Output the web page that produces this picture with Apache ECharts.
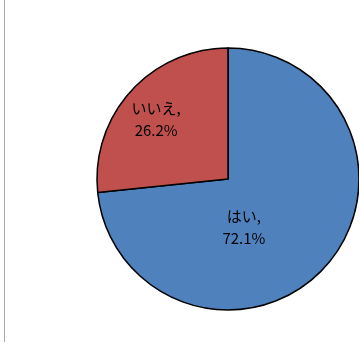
<!DOCTYPE html>
<html>
<head>
<meta charset="utf-8">
<script src="https://cdn.jsdelivr.net/npm/echarts@6/dist/echarts.min.js"></script>
<style>
  html, body { margin: 0; padding: 0; background: #fff; }
  #wrap { position: relative; width: 359px; height: 347px; }
  #edge { position: absolute; left: 4px; top: 0; width: 1px; height: 342px; background: #aaa; }
  #chart { position: absolute; left: 0; top: 0; width: 359px; height: 347px; }
</style>
</head>
<body>
<div id="wrap">
  <div id="chart"></div>
  <div id="edge"></div>
</div>
<script>
const names = ['はい', 'いいえ']
const values = [72.1, 26.2]
const colors = ['#4F81BD', '#C0504D']
const labelOffsets = [[-35, 2], [-21, -14]]

const chart = echarts.init(document.getElementById('chart'))
chart.setOption({
  animation: false,
  series: [
    {
      type: 'pie',
      center: [228, 179],
      radius: [0, 131],
      startAngle: 90,
      clockwise: true,
      silent: true,
      itemStyle: { borderColor: '#000', borderWidth: 1.5 },
      label: {
        position: 'inside',
        formatter: '{b},\n{c}%',
        color: '#000',
        fontSize: 15,
        lineHeight: 22,
        fontFamily: '"Noto Sans CJK JP", "Noto Sans", sans-serif'
      },
      labelLine: { show: false },
      data: names.map((n, i) => ({
        name: n,
        value: values[i],
        itemStyle: { color: colors[i] },
        label: { offset: labelOffsets[i] }
      }))
    }
  ]
})
</script>
</body>
</html>
